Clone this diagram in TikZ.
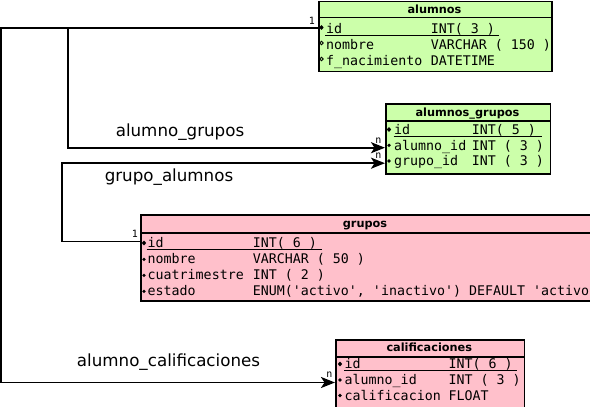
\documentclass[tikz,border=0pt]{standalone}
\usepackage{fontspec}
\setmainfont{DejaVu Sans}
\newfontfamily\dbmono{DejaVu Sans Mono}
\usetikzlibrary{arrows.meta}
\definecolor{tgreen}{RGB}{204,255,170}
\definecolor{tpink}{RGB}{255,192,203}
\tikzset{
  tbl/.style={draw=black, line width=1.8pt, rectangle, inner sep=0pt, anchor=north west},
  sepline/.style={line width=1.8pt},
  hdr/.style={font=\fontsize{11.3}{12}\selectfont\bfseries, anchor=base, inner sep=0pt},
  fld/.style={font=\dbmono\fontsize{13.3}{14}\selectfont, anchor=base west, inner sep=0pt},
  rel/.style={font=\fontsize{16.7}{18}\selectfont, anchor=base, inner sep=0pt},
  card/.style={font=\dbmono\fontsize{10}{11}\selectfont, inner sep=0pt},
  conn/.style={line width=1.8pt},
  arr/.style={conn, -{Stealth[length=14pt,width=11pt,inset=3.5pt]}},
  uline/.style={line width=1.1pt},
}
\newcommand{\pkdot}[2]{\fill (#1-2.2,#2) -- (#1,#2-2.4) -- (#1+2.2,#2) -- (#1,#2+2.4) -- cycle;}
\newcommand{\nndot}[2]{\fill (#1,#2) circle (1.8pt);}
\newcommand{\nulldot}[2]{\draw[line width=0.8pt] (#1,#2) circle (1.8pt);}
\begin{document}
\begin{tikzpicture}[x=1pt,y=-1pt]
\useasboundingbox (0,0) rectangle (590,407);
\clip (0,0) rectangle (590,407);
\fill[white] (0,0) rectangle (590,407);

% ---------- alumnos ----------
\node[tbl, fill=tgreen, minimum width=233pt, minimum height=70pt] (alumnos) at (318,0.5) {};
\draw[sepline] (318,17.5) -- (551,17.5);
\node[hdr] (alumnos-h) at (434.5,13.3) {alumnos};
\pkdot{321.5}{27.5}
\nulldot{321.5}{43}
\nulldot{321.5}{59}
\node[fld] (alumnos-id) at (326,33.3) {id};
\node[fld] (alumnos-idt) at (430.7,33.3) {INT( 3 )};
\draw[uline] (325,35.3) -- (499,35.3);
\node[fld] (alumnos-nom) at (326,49.3) {nombre};
\node[fld] (alumnos-nomt) at (430.7,49.3) {VARCHAR ( 150 )};
\node[fld] (alumnos-fn) at (326,65.3) {f\_nacimiento};
\node[fld] (alumnos-fnt) at (430.7,65.3) {DATETIME};
\coordinate (alumnos-idW) at (318,28.3);

% ---------- alumnos_grupos ----------
\node[tbl, fill=tgreen, minimum width=164.5pt, minimum height=70pt] (ag) at (385,103) {};
\draw[sepline] (385,121.3) -- (549.5,121.3);
\node[hdr] (ag-h) at (467.5,116.7) {alumnos\_grupos};
\pkdot{389}{129.5}
\nndot{389}{145.3}
\nndot{389}{161}
\node[fld] (ag-id) at (394,134.3) {id};
\node[fld] (ag-idt) at (471.7,134.3) {INT( 5 )};
\draw[uline] (393.5,136.3) -- (541.7,136.3);
\node[fld] (ag-al) at (394,150) {alumno\_id};
\node[fld] (ag-alt) at (471.7,150) {INT ( 3 )};
\node[fld] (ag-gr) at (394,165.5) {grupo\_id};
\node[fld] (ag-grt) at (471.7,165.5) {INT ( 3 )};
\coordinate (ag-alW) at (385,147.7);
\coordinate (ag-grW) at (385,163.2);

% ---------- grupos ----------
\node[tbl, fill=tpink, minimum width=452pt, minimum height=86pt] (grupos) at (140,214) {};
\draw[sepline] (140,233) -- (592,233);
\node[hdr] (grupos-h) at (365,227.3) {grupos};
\pkdot{144}{243}
\nndot{144}{259.3}
\nndot{144}{275.3}
\nndot{144}{291.3}
\node[fld] (gr-id) at (147.5,247.3) {id};
\node[fld] (gr-idt) at (252.7,247.3) {INT( 6 )};
\draw[uline] (146.5,249.5) -- (321.7,249.5);
\node[fld] (gr-nom) at (147.5,263.5) {nombre};
\node[fld] (gr-nomt) at (252.7,263.5) {VARCHAR ( 50 )};
\node[fld] (gr-cu) at (147.5,279.5) {cuatrimestre};
\node[fld] (gr-cut) at (252.7,279.5) {INT ( 2 )};
\node[fld] (gr-es) at (147.5,295.5) {estado};
\node[fld] (gr-est) at (252.7,295.5) {ENUM('activo', 'inactivo') DEFAULT 'activo};
\coordinate (gr-idW) at (140,241.5);

% ---------- calificaciones ----------
\node[tbl, fill=tpink, minimum width=188.5pt, minimum height=72pt] (cal) at (335,339) {};
\draw[sepline] (335,357) -- (523.5,357);
\node[hdr] (cal-h) at (429.3,351.7) {calificaciones};
\pkdot{340}{364}
\nndot{340}{380}
\nndot{340}{395.5}
\node[fld] (cal-id) at (344.5,368.5) {id};
\node[fld] (cal-idt) at (448.3,368.5) {INT( 6 )};
\draw[uline] (344,370.5) -- (516.7,370.5);
\node[fld] (cal-al) at (344.5,384.3) {alumno\_id};
\node[fld] (cal-alt) at (448.3,384.3) {INT ( 3 )};
\node[fld] (cal-ca) at (344.5,400) {calificacion};
\node[fld] (cal-cat) at (448.3,400) {FLOAT};
\coordinate (cal-alW) at (335,382.5);

% ---------- cardinalities ----------
\node[card] (c1a) at (312,20.5) {1};
\node[card] (c1g) at (135,234) {1};
\node[card] (cna) at (378.5,140.5) {n};
\node[card] (cng) at (378.5,156) {n};
\node[card] (cnc) at (329.5,375) {n};

% ---------- relation labels ----------
\node[rel] (l-ag) at (180,136) {alumno\_grupos};
\node[rel] (l-ga) at (169,181.5) {grupo\_alumnos};
\node[rel] (l-ac) at (168.5,366.7) {alumno\_calificaciones};

% ---------- connectors ----------
\draw[arr] (alumnos-idW) -- (68,28.3) -- (68,147.7) -- (ag-alW);
\draw[arr] (alumnos-idW) -- (1,28.3) -- (1,382.5) -- (cal-alW);
\draw[arr] (gr-idW) -- (61.7,241.5) -- (61.7,163.2) -- (ag-grW);
\end{tikzpicture}
\end{document}
